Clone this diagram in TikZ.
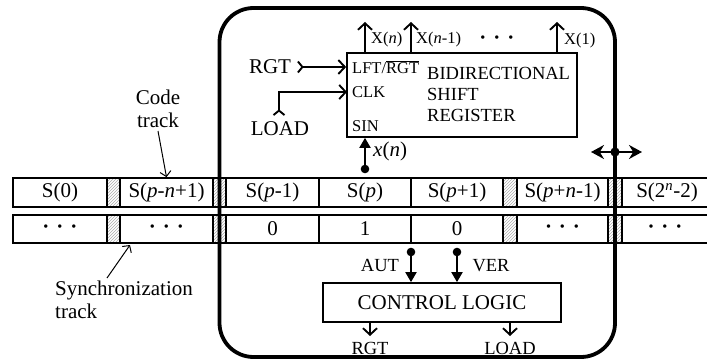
\documentclass[tikz,border=0pt]{standalone}
\usepackage{fontspec}
\setmainfont{Liberation Serif}
\usetikzlibrary{arrows.meta,patterns}
\newcommand{\tdots}{\textbf{·\,\,·\,\,·}}
\begin{document}
\begin{tikzpicture}[x=1pt,y=-1pt,
  tcell/.style={draw, line width=1.7pt, inner sep=0pt, minimum height=29pt, font=\fontsize{21}{23}\selectfont},
  bcell/.style={draw, line width=1.7pt, inner sep=0pt, minimum height=28pt, font=\fontsize{21}{23}\selectfont},
  hatch/.style={pattern=north east lines, pattern color=gray!65},
  big/.style={font=\fontsize{21}{23}\selectfont, inner sep=0pt},
  mid/.style={font=\fontsize{18.5}{21}\selectfont, inner sep=0pt},
  small/.style={font=\fontsize{16.5}{18}\selectfont, inner sep=0pt},
  wire/.style={line width=1.9pt},
  vtip/.style={-{Straight Barb[length=6.5pt,width=14pt]}},
  ftip/.style={-{Triangle[length=10pt,width=11pt]}},
  tailtip/.style={{Straight Barb[reversed,length=4.5pt,width=11pt]}-{Straight Barb[length=6.5pt,width=14pt]}}
]
\useasboundingbox (0,0) rectangle (707,361);

% code track
\node[tcell, minimum width=94pt] (t1) at (60,192.5) {S(0)};
\node[tcell, hatch, minimum width=13pt] (h1) at (113.5,192.5) {};
\node[tcell, minimum width=93pt] (t2) at (166.5,192.5) {S(\textit{p}-\textit{n}+1)};
\node[tcell, hatch, minimum width=13pt] (h2) at (219.5,192.5) {};
\node[tcell, minimum width=93pt] (t3) at (272.5,192.5) {S(\textit{p}-1)};
\node[tcell, minimum width=92pt] (t4) at (365,192.5) {S(\textit{p})};
\node[tcell, minimum width=92pt] (t5) at (457,192.5) {S(\textit{p}+1)};
\node[tcell, hatch, minimum width=14pt] (h3) at (510,192.5) {};
\node[tcell, minimum width=91pt] (t6) at (562.5,192.5) {S(\textit{p}+\textit{n}-1)};
\node[tcell, hatch, minimum width=14pt] (h4) at (615,192.5) {};
\node[tcell, minimum width=100pt] (t7) at (672,192.5) {};
\node[big] (t7l) at (667,192.5) {S(2\textsuperscript{\textit{n}}-2)};

% synchronization track
\node[bcell, minimum width=94pt] (b1) at (60,229) {\tdots};
\node[bcell, hatch, minimum width=13pt] (g1) at (113.5,229) {};
\node[bcell, minimum width=93pt] (b2) at (166.5,229) {\tdots};
\node[bcell, hatch, minimum width=13pt] (g2) at (219.5,229) {};
\node[bcell, minimum width=93pt] (b3) at (272.5,229) {0};
\node[bcell, minimum width=92pt] (b4) at (365,229) {1};
\node[bcell, minimum width=92pt] (b5) at (457,229) {0};
\node[bcell, hatch, minimum width=14pt] (g3) at (510,229) {};
\node[bcell, minimum width=91pt] (b6) at (562.5,229) {\tdots};
\node[bcell, hatch, minimum width=14pt] (g4) at (615,229) {};
\node[bcell, minimum width=100pt] (b7) at (672,229) {};
\node[big] (b7l) at (665,229) {\tdots};

% head frame
\node[draw, line width=3.8pt, rounded corners=34pt, minimum width=395.5pt, minimum height=349pt, inner sep=0pt] (frame) at (417.25,182.5) {};

% shift register
\node[draw, line width=1.7pt, minimum width=230pt, minimum height=84pt, inner sep=0pt] (sr) at (462,95) {};
\node[small, anchor=west] (lft) at (352,67) {LFT/$\overline{\hbox{RGT}}$};
\node[small, anchor=west] (clk) at (352,92) {CLK};
\node[small, anchor=west] (sin) at (352,126) {SIN};
\node[mid, anchor=west, align=left] (srname) at (427,94) {BIDIRECTIONAL\\SHIFT\\REGISTER};

% outputs
\coordinate (xo1) at (365,22);
\coordinate (xo2) at (411,22);
\coordinate (xo3) at (557,22);
\draw[wire, vtip] (xo1 |- sr.north) -- (xo1);
\draw[wire, vtip] (xo2 |- sr.north) -- (xo2);
\draw[wire, vtip] (xo3 |- sr.north) -- (xo3);
\node[small, anchor=west] (xl1) at (371,40) {X(\textit{n})};
\node[small, anchor=west] (xl2) at (416,40) {X(\textit{n}-1)};
\node[big] (xdots) at (497,40) {\tdots};
\node[small, anchor=west] (xl3) at (564,41) {X(1)};

% inputs
\node[big] (rgtin) at (270,67) {RGT};
\coordinate (rgtS) at (297,67);
\draw[wire, tailtip] (rgtS) -- (sr.west |- rgtS);
\node[big] (loadin) at (280,129) {LOAD};
\coordinate (loadS) at (279,116);
\coordinate (clkin) at (347,92);
\draw[wire, tailtip] (loadS) -- (loadS |- clkin) -- (clkin);

% x(n)
\coordinate (xn) at (365,169);
\draw[wire, ftip] (xn) -- (xn |- sr.south);
\fill (xn) circle (4.3pt);
\node[big, anchor=west] (xnl) at (373,151) {\textit{x}(\textit{n})};

% shift arrows
\coordinate (sh) at (615,152);
\coordinate (shl) at (591,152);
\coordinate (shr) at (642,152);
\draw[wire, {Stealth[length=13pt,width=14pt]}-{Stealth[length=13pt,width=14pt]}] (shl) -- (shr);
\fill (sh) circle (4.6pt);

% control logic
\node[draw, line width=1.7pt, minimum width=238pt, minimum height=39pt, inner sep=0pt, font=\fontsize{21}{23}\selectfont] (cl) at (442,302.5) {CONTROL LOGIC};
\coordinate (aut) at (411,252);
\coordinate (ver) at (457,252);
\draw[wire, ftip] (aut) -- (aut |- cl.north);
\draw[wire, ftip] (ver) -- (ver |- cl.north);
\fill (aut) circle (4.3pt);
\fill (ver) circle (4.3pt);
\node[mid] (autl) at (380,265) {AUT};
\node[mid] (verl) at (491,266) {VER};
\coordinate (o1) at (370,336);
\coordinate (o2) at (510,336);
\draw[wire, vtip] (o1 |- cl.south) -- (o1);
\draw[wire, vtip] (o2 |- cl.south) -- (o2);
\node[mid] (rgtout) at (370,348) {RGT};
\node[mid] (loadout) at (510,348) {LOAD};

% track labels
\node[big, align=center] (code) at (158,109) {Code\\track};
\coordinate (codeA) at (158,131);
\draw[line width=1pt, -{Straight Barb[length=5pt,width=11pt]}] (codeA) -- (t2.north);
\node[big, align=left, anchor=north west] (sync) at (55,281) {Synchronization\\track};
\coordinate (syncA) at (107,278);
\coordinate (syncB) at (130,245);
\draw[line width=1pt, -{Straight Barb[length=5pt,width=11pt]}] (syncA) -- (syncB);
\end{tikzpicture}
\end{document}
